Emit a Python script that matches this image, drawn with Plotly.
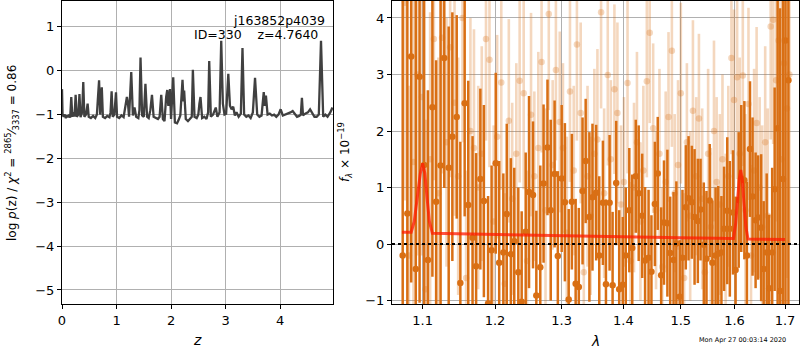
import plotly.graph_objects as go

# ---------------- left panel: log p(z) ----------------
z_grid = [0.00, 0.01, 0.03, 0.05, 0.07, 0.09, 0.11, 0.13, 0.15, 0.17, 0.19, 0.21, 0.23, 0.25, 0.27,
          0.30, 0.32, 0.34, 0.37, 0.39, 0.41, 0.44, 0.47, 0.49, 0.53, 0.57, 0.61, 0.64, 0.66, 0.68,
          0.70, 0.73, 0.75, 0.79, 0.83, 0.87, 0.89, 0.91, 0.93, 0.96, 0.99, 1.01, 1.05, 1.09, 1.13,
          1.16, 1.19, 1.21, 1.23, 1.27, 1.30, 1.33, 1.36, 1.40, 1.42, 1.44, 1.47, 1.50, 1.53, 1.56,
          1.59, 1.62, 1.65, 1.68, 1.72, 1.76, 1.79, 1.82, 1.85, 1.88, 1.91, 1.93, 1.95, 1.98, 2.00,
          2.04, 2.07, 2.11, 2.14, 2.17, 2.21, 2.23, 2.24, 2.27, 2.31, 2.35, 2.38, 2.40, 2.43, 2.47,
          2.50, 2.52, 2.54, 2.57, 2.61, 2.65, 2.68, 2.70, 2.73, 2.77, 2.80, 2.82, 2.85, 2.89, 2.92,
          2.95, 2.98, 3.01, 3.05, 3.08, 3.11, 3.14, 3.17, 3.20, 3.24, 3.28, 3.31, 3.34, 3.38, 3.42,
          3.46, 3.50, 3.54, 3.58, 3.62, 3.66, 3.70, 3.72, 3.74, 3.77, 3.81, 3.85, 3.89, 3.93, 3.97,
          4.01, 4.05, 4.10, 4.14, 4.19, 4.23, 4.27, 4.31, 4.35, 4.38, 4.40, 4.42, 4.46, 4.51, 4.55,
          4.59, 4.63, 4.67, 4.71, 4.75, 4.79, 4.83, 4.87, 4.92, 4.96]
logp = [-0.42, -1.00, -1.05, -1.00, -1.08, -1.02, -1.06, -1.00, -1.07, -0.60, -1.05, -0.95, -1.04, -0.55, -1.05,
        -1.00, -0.53, -1.06, -0.95, -0.26, -1.05, -1.00, -0.75, -1.05, -1.08, -1.03, -1.08, -1.00, -0.60, -0.22,
        -1.00, -0.38, -1.05, -1.08, -1.03, -1.06, -0.95, -0.47, -1.05, -1.00, -0.49, -1.05, -1.08, -1.02, -1.06,
        -0.82, -0.60, -0.75, -1.05, -0.03, -1.02, -0.84, -1.05, -1.08, -0.90, 0.30, -1.02, -1.05, -0.30, -1.05,
        -1.08, -0.90, -0.55, -1.05, -1.08, -1.10, -1.05, -0.55, -1.10, -1.15, -0.60, -0.44, -0.80, -0.42, -1.10,
        -0.15, -1.18, -1.20, -1.12, -1.02, -0.21, -0.70, -0.45, -1.10, -1.15, -1.08, -1.05, 0.02, -1.05, -1.08,
        -1.00, -0.75, -0.60, -1.08, -1.05, -1.10, -0.95, 0.22, -1.05, -1.00, -0.90, -0.84, -1.05, -0.95, 0.68,
        -0.75, -1.00, -0.98, -0.07, -0.80, -0.88, -0.82, -1.02, -0.95, -1.05, -0.98, 0.52, -1.00, -1.05, -1.02,
        -1.08, -0.95, -0.16, -1.00, -1.05, -1.02, -0.49, -0.80, -0.57, -1.00, -0.98, -1.02, -1.00, -1.05, -1.00,
        -0.88, -1.02, -1.00, -0.98, -0.95, -0.92, -1.00, -1.05, -1.03, -1.00, -0.62, -1.02, -0.98, -0.95, -0.88,
        -0.98, -1.05, -1.05, -1.00, 0.68, -1.05, -1.00, -1.05, -0.95, -0.84]

# ---------------- right panel: spectrum ----------------
lam_dark = [1.074, 1.080, 1.085, 1.091, 1.096, 1.102, 1.107, 1.113, 1.118, 1.124,
            1.129, 1.135, 1.140, 1.146, 1.151, 1.157, 1.162, 1.168, 1.173, 1.179,
            1.184, 1.190, 1.195, 1.201, 1.206, 1.212, 1.217, 1.223, 1.228, 1.234,
            1.239, 1.245, 1.250, 1.256, 1.261, 1.267, 1.272, 1.278, 1.283, 1.289,
            1.294, 1.300, 1.305, 1.311, 1.316, 1.322, 1.327, 1.333, 1.338, 1.344,
            1.349, 1.355, 1.360, 1.366, 1.371, 1.377, 1.382, 1.388, 1.393, 1.399,
            1.404, 1.410, 1.415, 1.421, 1.426, 1.432, 1.437, 1.443, 1.448, 1.454,
            1.459, 1.465, 1.470, 1.476, 1.481, 1.487, 1.492, 1.498, 1.503, 1.509,
            1.514, 1.520, 1.525, 1.531, 1.536, 1.542, 1.547, 1.553, 1.558, 1.564,
            1.569, 1.575, 1.580, 1.586, 1.591, 1.597, 1.602, 1.608, 1.613, 1.619,
            1.624, 1.630, 1.635, 1.641, 1.646, 1.652, 1.657, 1.663, 1.668, 1.674,
            1.679, 1.685, 1.690, 1.696, 1.701, 1.707]
flux_dark = [-0.20, 0.54, 3.32, -0.44, 2.96, 1.40, -0.28, 2.42, 0.75, 1.39,
             3.29, 1.35, 1.90, 2.25, -0.69, 2.49, 0.69, 0.11, -0.39, 1.15,
             0.76, -1.05, -0.11, 1.43, -0.33, -0.15, 0.53, -0.18, 0.05, -0.50,
             -1.02, 0.22, 0.92, 0.87, -0.91, -0.41, 1.07, 1.71, 0.60, 1.24,
             -0.21, 1.16, 0.74, -0.98, 0.75, -0.70, -0.76, 0.94, 1.47, 0.48,
             0.83, 0.91, -0.20, 0.73, -0.71, 0.73, -0.73, 1.08, -0.80, -0.72,
             -0.20, 0.60, -0.07, 1.20, 0.90, 0.50, -0.29, -0.24, -0.49, 0.71,
             1.25, -0.55, 0.38, 0.37, -0.16, -0.28, 0.01, -0.93, -0.24, 0.65,
             0.81, 0.74, 0.48, 0.41, 0.61, -0.01, -0.26, 0.77, -0.33, -0.20,
             -0.17, -0.15, 0.27, 0.59, 0.27, 0.56, -0.46, 0.78, 1.16, 1.13,
             -0.20, 1.68, 0.84, 0.42, 0.47, 0.29, -0.44, -0.15, -0.78, -0.15,
             0.97, 2.05, -0.83, 1.15, 3.60, 2.90]
err_dark = [5.0, 5.0, 4.0, 5.0, 4.0, 5.0, 3.0, 3.0, 2.5, 3.0,
            2.3, 2.5, 2.2, 1.8, 2.5, 2.0, 2.2, 1.8, 2.0, 1.6,
            1.7, 1.9, 1.5, 1.6, 1.8, 1.4, 1.6, 1.7, 1.3, 1.5,
            1.6, 1.4, 1.7, 1.3, 1.5, 1.8, 1.4, 1.2, 1.6, 1.3,
            1.5, 1.3, 1.4, 1.6, 1.2, 1.5, 1.4, 1.3, 1.1, 1.5,
            1.3, 1.2, 1.4, 1.1, 1.5, 1.2, 1.3, 1.1, 1.4, 1.2,
            1.2, 1.1, 1.3, 1.0, 1.2, 1.1, 1.3, 1.2, 1.0, 1.1,
            1.0, 1.2, 1.1, 1.3, 1.0, 1.2, 1.1, 1.0, 1.2, 1.1,
            1.1, 1.0, 1.2, 1.1, 0.9, 1.1, 1.2, 1.0, 1.1, 1.2,
            1.2, 1.0, 1.1, 1.3, 1.2, 1.1, 1.3, 1.2, 1.3, 1.4,
            1.3, 1.2, 1.4, 1.2, 1.1, 1.3, 1.2, 1.4, 1.3, 1.5,
            1.8, 5.0, 5.0, 5.0, 6.0, 6.0]

lam_light = [1.077, 1.082, 1.088, 1.093, 1.099, 1.104, 1.110, 1.115, 1.121, 1.126,
             1.132, 1.137, 1.143, 1.148, 1.154, 1.159, 1.165, 1.170, 1.176, 1.181,
             1.187, 1.192, 1.198, 1.203, 1.209, 1.214, 1.220, 1.225, 1.231, 1.236,
             1.242, 1.247, 1.253, 1.258, 1.264, 1.269, 1.275, 1.280, 1.286, 1.291,
             1.297, 1.302, 1.308, 1.313, 1.319, 1.324, 1.330, 1.335, 1.341, 1.346,
             1.352, 1.357, 1.363, 1.368, 1.374, 1.379, 1.385, 1.390, 1.396, 1.401,
             1.407, 1.412, 1.418, 1.423, 1.429, 1.434, 1.440, 1.445, 1.451, 1.456,
             1.462, 1.467, 1.473, 1.478, 1.484, 1.489, 1.495, 1.500, 1.506, 1.511,
             1.517, 1.522, 1.528, 1.533, 1.539, 1.544, 1.550, 1.555, 1.561, 1.566,
             1.572, 1.577, 1.583, 1.588, 1.594, 1.599, 1.605, 1.610, 1.616, 1.621,
             1.627, 1.632, 1.638, 1.643, 1.649, 1.654, 1.660, 1.665, 1.671, 1.676,
             1.682, 1.687, 1.693, 1.698, 1.704, 1.709]
flux_light = [4.27, -0.20, 1.45, 3.00, 2.60, -0.80, 1.50, 3.63, 0.90, 3.65,
              1.80, 3.48, 2.50, 1.20, 4.00, -0.60, 2.00, 1.70, 1.00, 1.60,
              3.63, 3.26, 0.40, 1.90, 2.86, -0.70, 2.18, 0.80, 1.60, 2.89,
              2.67, -0.30, 2.29, 1.20, 1.70, 3.22, 0.60, 4.07, 1.40, 3.08,
              2.16, 1.70, 0.20, 2.70, 1.30, 3.53, 2.32, -0.50, 1.20, 0.50,
              1.60, 1.85, 4.10, 0.90, 2.99, 1.50, 2.74, 2.32, 0.70, 1.10,
              2.85, -0.30, 1.00, 1.80, 0.40, 1.30, 2.88, 3.74, 2.05, 0.60,
              1.60, -0.40, 1.10, 2.25, 3.42, 0.90, 1.40, 2.67, -0.60, 1.80,
              0.50, 2.36, 1.20, 2.22, 0.80, -0.50, 1.60, 0.30, 2.00, 1.10,
              0.70, 1.50, 0.20, 1.20, 3.29, 2.55, 2.95, 1.60, 2.98, 0.60,
              2.48, -0.20, 1.30, 2.14, 1.00, 0.30, 1.80, 0.50, 3.85, 3.97,
              2.90, 3.60, 1.50, 3.20, 2.40, 3.00]
err_light = [3.5, 3.0, 3.0, 3.2, 2.8, 3.0, 2.6, 2.5, 2.4, 2.4,
             2.2, 2.3, 2.0, 2.1, 2.2, 1.9, 2.0, 2.1, 1.8, 1.9,
             1.8, 1.9, 1.7, 1.8, 1.9, 1.6, 1.8, 1.7, 1.6, 1.8,
             1.7, 1.6, 1.8, 1.5, 1.7, 1.6, 1.8, 1.7, 1.5, 1.6,
             1.6, 1.5, 1.7, 1.6, 1.5, 1.7, 1.6, 1.5, 1.6, 1.4,
             1.5, 1.6, 1.7, 1.5, 1.6, 1.4, 1.5, 1.6, 1.4, 1.5,
             1.6, 1.4, 1.5, 1.6, 1.4, 1.5, 1.7, 1.6, 1.5, 1.4,
             1.5, 1.4, 1.6, 1.5, 1.7, 1.4, 1.5, 1.6, 1.5, 1.4,
             1.5, 1.6, 1.4, 1.5, 1.6, 1.4, 1.5, 1.4, 1.6, 1.5,
             1.6, 1.5, 1.4, 1.6, 1.7, 1.6, 1.8, 1.7, 1.6, 1.7,
             1.7, 1.6, 1.8, 1.7, 1.6, 1.8, 1.7, 1.9, 2.0, 2.2,
             2.5, 3.0, 3.0, 3.0, 3.0, 3.0]

lam_model = [1.073, 1.085, 1.089, 1.093, 1.097, 1.100, 1.103, 1.106, 1.109, 1.113,
             1.20, 1.30, 1.40, 1.50, 1.598, 1.602, 1.606, 1.609, 1.612, 1.615, 1.618, 1.622, 1.626, 1.700]
flux_model = [0.21, 0.21, 0.40, 0.85, 1.25, 1.43, 1.25, 0.80, 0.40, 0.19,
              0.17, 0.15, 0.12, 0.11, 0.10, 0.35, 0.80, 1.15, 1.31, 1.15, 0.75, 0.30, 0.09, 0.08]

left_xticks = [0, 1, 2, 3, 4]
left_yticks = [-5, -4, -3, -2, -1, 0, 1]
right_xticks = [1.1, 1.2, 1.3, 1.4, 1.5, 1.6, 1.7]
right_yticks = [-1, 0, 1, 2, 3, 4]

ORANGE = "#d96f14"
ORANGE_L = "rgba(217,111,20,0.28)"
GRID = "#b0b0b0"
FONT = "DejaVu Sans"

fig = go.Figure()

fig.add_trace(go.Scatter(x=z_grid, y=logp, mode="lines",
                         line=dict(color="#404040", width=2.3),
                         xaxis="x", yaxis="y", showlegend=False))

fig.add_trace(go.Scatter(x=lam_light, y=flux_light, mode="markers",
                         marker=dict(color=ORANGE_L, size=6.5),
                         error_y=dict(type="data", array=err_light, color=ORANGE_L,
                                      thickness=2.6, width=0),
                         xaxis="x2", yaxis="y2", showlegend=False))
fig.add_trace(go.Scatter(x=lam_dark, y=flux_dark, mode="markers",
                         marker=dict(color=ORANGE, size=6.5),
                         error_y=dict(type="data", array=err_dark, color=ORANGE,
                                      thickness=2.5, width=0),
                         xaxis="x2", yaxis="y2", showlegend=False))
fig.add_trace(go.Scatter(x=lam_model, y=flux_model, mode="lines",
                         line=dict(color="rgba(255,25,0,0.75)", width=3),
                         xaxis="x2", yaxis="y2", showlegend=False))

fig.add_shape(type="line", xref="x2 domain", yref="y2", x0=0, x1=1, y0=0, y1=0,
              line=dict(color="black", width=2, dash="dot"))

ydom = [46 / 350, 349 / 350]
axis_common = dict(showline=True, linecolor="black", linewidth=1, mirror=True,
                   ticks="outside", ticklen=4, tickcolor="black", tickwidth=1,
                   showgrid=True, gridcolor=GRID, gridwidth=1, zeroline=False,
                   tickfont=dict(family=FONT, size=13, color="black"),
                   layer="above traces", automargin=False)

fig.update_layout(
    width=800, height=350,
    margin=dict(l=0, r=0, t=0, b=0, autoexpand=False),
    paper_bgcolor="white", plot_bgcolor="white",
    font=dict(family=FONT, color="black"),
    xaxis=dict(domain=[62 / 800, 333 / 800], range=[0, 4.97], tickvals=left_xticks,
               anchor="y", **axis_common),
    yaxis=dict(domain=ydom, range=[-5.32, 1.59], tickvals=left_yticks,
               anchor="x", **axis_common),
    xaxis2=dict(domain=[392 / 800, 799 / 800], type="log", range=[0.02542, 0.23775],
                tickvals=right_xticks, ticktext=[str(t) for t in right_xticks],
                anchor="y2", **axis_common),
    yaxis2=dict(domain=ydom, range=[-1.06, 4.30], tickvals=right_yticks,
                anchor="x2", **axis_common),
)

def px(xp, yp):
    return xp / 800, 1 - yp / 350

ann = []
x, y = px(327, 20)
ann.append(dict(x=x, y=y, text="j163852p4039", xanchor="right", yanchor="middle",
                font=dict(family=FONT, size=12.5)))
x, y = px(320, 34)
ann.append(dict(x=x, y=y, text="ID=330    z=4.7640", xanchor="right", yanchor="middle",
                font=dict(family=FONT, size=12.5)))
x, y = px(197, 340)
ann.append(dict(x=x, y=y, text="<i>z</i>", xanchor="center", yanchor="middle",
                font=dict(family=FONT, size=14)))
x, y = px(595, 341)
ann.append(dict(x=x, y=y, text="<i>λ</i>", xanchor="center", yanchor="middle",
                font=dict(family=FONT, size=14)))
x, y = px(12, 153)
ann.append(dict(x=x, y=y, textangle=-90, xanchor="center", yanchor="middle",
                text="log <i>p</i>(z) / <i>χ</i><sup>2</sup> = <sup>2865</sup>⁄<sub>3337</sub> = 0.86",
                font=dict(family=FONT, size=12)))
x, y = px(345, 152)
ann.append(dict(x=x, y=y, textangle=-90, xanchor="center", yanchor="middle",
                text="<i>f</i><sub><i>λ</i></sub> × 10<sup>−19</sup>",
                font=dict(family=FONT, size=12)))
x, y = px(742, 340)
ann.append(dict(x=x, y=y, text="Mon Apr 27 00:03:14 2020", xanchor="center", yanchor="middle",
                font=dict(family=FONT, size=6.5)))
for a in ann:
    a["xref"] = "paper"
    a["yref"] = "paper"
    a["showarrow"] = False
fig.update_layout(annotations=ann)

fig.write_html("out.html", config={"displayModeBar": False},
               post_script="document.body.style.margin='0';document.body.style.padding='0';")
